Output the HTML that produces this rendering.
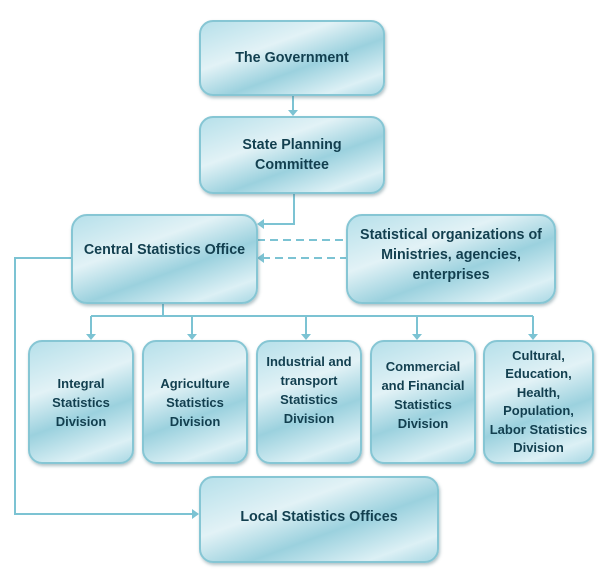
<!DOCTYPE html>
<html><head><style>
body{margin:0;width:600px;height:585px;background:#fff;position:relative;overflow:hidden;font-family:"Liberation Sans",sans-serif}
.b{position:absolute;box-sizing:border-box;border:2px solid #86c6d4;border-radius:14px;
background:linear-gradient(160deg,#b6e0ea 0%,#e2f2f6 35%,#9bd1de 60%,#dcf0f5 85%,#a9d8e4 100%);
box-shadow:1px 2px 3px rgba(80,120,130,.45);display:flex;align-items:center;justify-content:center;text-align:center;
color:#123f4f;font-weight:bold;font-size:14.3px;line-height:20px}
.s{font-size:13px;line-height:19px}
svg{position:absolute;left:0;top:0}
</style></head><body>
<svg width="600" height="585">
<g stroke="#7cc3d3" stroke-width="2" fill="none">
<path d="M293 95V112"/>
<path d="M294 193V224H262"/>
<path d="M257 240H346M262 258H346" stroke-dasharray="8 5"/>
<path d="M71 258H15V514H194"/>
<path d="M163 303V316M91 316H533M91 316V335M192 316V335M306 316V335M417 316V335M533 316V335"/>
</g>
<g fill="#7cc3d3">
<path d="M288 110L298 110L293 116Z"/>
<path d="M257 224L264 219L264 229Z"/>
<path d="M257 258L264 253L264 263Z"/>
<path d="M199 514L192 509L192 519Z"/>
<path d="M86 334L96 334L91 340Z"/><path d="M187 334L197 334L192 340Z"/><path d="M301 334L311 334L306 340Z"/><path d="M412 334L422 334L417 340Z"/><path d="M528 334L538 334L533 340Z"/>
</g>
</svg>
<div class="b" style="left:199px;top:20px;width:186px;height:76px">The Government</div>
<div class="b" style="left:199px;top:116px;width:186px;height:78px">State Planning<br>Committee</div>
<div class="b" style="left:71px;top:214px;width:187px;height:90px;border-radius:16px;padding-bottom:18px">Central Statistics Office</div>
<div class="b" style="left:346px;top:214px;width:210px;height:90px;border-radius:16px;padding-bottom:8px">Statistical organizations of<br>Ministries, agencies,<br>enterprises</div>
<div class="b s" style="left:28px;top:340px;width:106px;height:124px">Integral<br>Statistics<br>Division</div>
<div class="b s" style="left:142px;top:340px;width:106px;height:124px">Agriculture<br>Statistics<br>Division</div>
<div class="b s" style="left:256px;top:340px;width:106px;height:124px;align-items:flex-start;padding-top:10px">Industrial and<br>transport<br>Statistics<br>Division</div>
<div class="b s" style="left:370px;top:340px;width:106px;height:124px;align-items:flex-start;padding-top:15px">Commercial<br>and Financial<br>Statistics<br>Division</div>
<div class="b s" style="left:483px;top:340px;width:111px;height:124px;line-height:18.5px">Cultural,<br>Education,<br>Health,<br>Population,<br>Labor Statistics<br>Division</div>
<div class="b" style="left:199px;top:476px;width:240px;height:87px;padding-bottom:6px">Local Statistics Offices</div>
</body></html>
